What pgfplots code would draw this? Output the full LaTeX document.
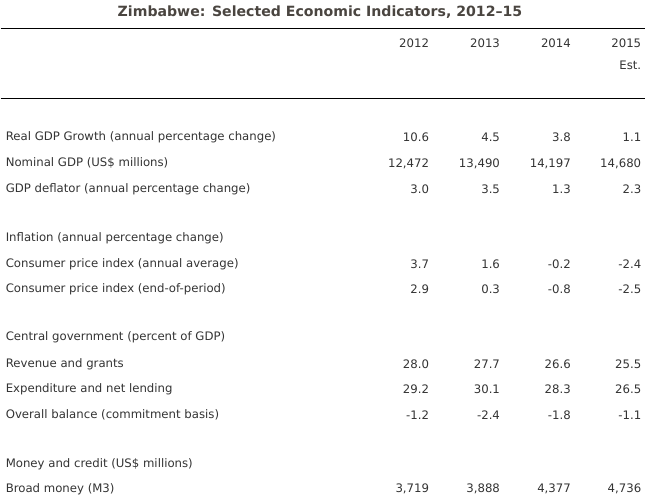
\documentclass[border=0pt]{standalone}
\usepackage{fontspec}
\setmainfont{DejaVu Sans}
\usepackage{pgfplots}
\usepackage{pgfplotstable}
\pgfplotsset{compat=1.18}
\definecolor{BodyGray}{HTML}{333333}
\definecolor{TitleGray}{HTML}{4A4540}

% row labels, y in pixels from the top
\pgfplotstableread[col sep=semicolon]{
y;label
136;Real GDP Growth (annual percentage change)
162;Nominal GDP (US\$ millions)
188;GDP deflator (annual percentage change)
237;Inflation (annual percentage change)
263;Consumer price index (annual average)
288;Consumer price index (end-of-period)
336;Central government (percent of GDP)
363;Revenue and grants
388;Expenditure and net lending
414;Overall balance (commitment basis)
463;Money and credit (US\$ millions)
488;Broad money (M3)
}\rowlabels

\pgfplotstableread[col sep=semicolon]{
y;a;b;c;d
42;2012;2013;2014;2015
64;;;;Est.
136;10.6;4.5;3.8;1.1
162;12,472;13,490;14,197;14,680
188;3.0;3.5;1.3;2.3
263;3.7;1.6;-0.2;-2.4
288;2.9;0.3;-0.8;-2.5
363;28.0;27.7;26.6;25.5
388;29.2;30.1;28.3;26.5
414;-1.2;-2.4;-1.8;-1.1
488;3,719;3,888;4,377;4,736
}\values

\begin{document}
\begin{tikzpicture}
\begin{axis}[
 width=484.5pt,height=378pt,scale only axis,
 xmin=0,xmax=646,ymin=0,ymax=504,y dir=reverse,
 axis lines=none,clip=false,
 every node near coord/.append style={font=\fontsize{8.8pt}{10pt}\selectfont,text=BodyGray,inner sep=0pt,yshift=-1.2pt},
 point meta=explicit symbolic,
]
\path (rel axis cs:0,0) rectangle (rel axis cs:1,1);
\node[font=\bfseries\fontsize{10.6pt}{12pt}\selectfont,text=TitleGray,inner sep=0pt,anchor=center]
 at (axis cs:320,12) {Zimbabwe: Selected Economic Indicators, 2012--15};
\addplot[black,line width=0.8pt] coordinates {(0,28.5)(646,28.5)};
\addplot[black,line width=0.8pt] coordinates {(0,99)(646,99)};
\addplot[draw=none,mark=none,nodes near coords,every node near coord/.append style={anchor=west}]
 table[x expr=5,y=y,meta=label]{\rowlabels};
\addplot[draw=none,mark=none,nodes near coords,every node near coord/.append style={anchor=east}]
 table[x expr=429.5,y=y,meta=a]{\values};
\addplot[draw=none,mark=none,nodes near coords,every node near coord/.append style={anchor=east}]
 table[x expr=500.5,y=y,meta=b]{\values};
\addplot[draw=none,mark=none,nodes near coords,every node near coord/.append style={anchor=east}]
 table[x expr=571.5,y=y,meta=c]{\values};
\addplot[draw=none,mark=none,nodes near coords,every node near coord/.append style={anchor=east}]
 table[x expr=642,y=y,meta=d]{\values};
\end{axis}
\end{tikzpicture}
\end{document}
